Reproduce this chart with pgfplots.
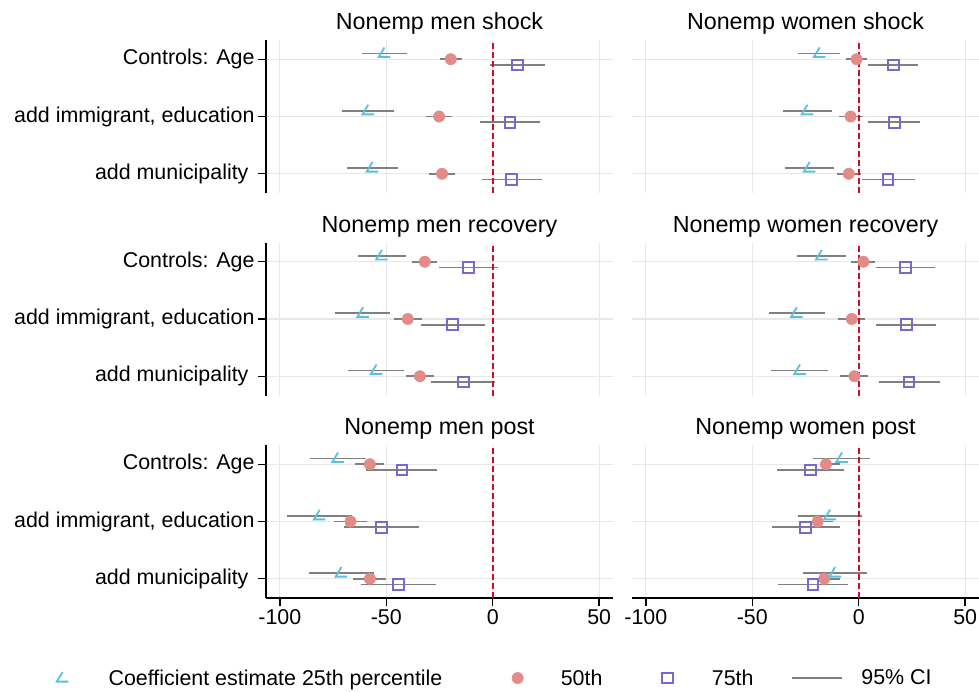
\documentclass[border=0pt]{standalone}
\usepackage{fontspec}
\setmainfont{Liberation Sans}
\usepackage{pgfplots}
\pgfplotsset{compat=1.18}
\usepackage{pgfplotstable}

\definecolor{cA}{HTML}{5BC0DE}
\definecolor{cB}{HTML}{E28B89}
\definecolor{cC}{HTML}{7A68CE}
\definecolor{ciGray}{HTML}{808080}
\definecolor{zeroRed}{HTML}{C8102E}
\definecolor{gridGray}{HTML}{E8E8E8}

\newcommand{\ticksize}{\fontsize{21.4}{25}\selectfont}
\newcommand{\titlesize}{\fontsize{23.3}{28}\selectfont}

% angle-shaped marker used for the 25th percentile
\pgfdeclareplotmark{ang}{%
  \pgfpathmoveto{\pgfqpoint{0.05\pgfplotmarksize}{1.1\pgfplotmarksize}}%
  \pgfpathlineto{\pgfqpoint{-1.0\pgfplotmarksize}{-0.65\pgfplotmarksize}}%
  \pgfpathlineto{\pgfqpoint{1.1\pgfplotmarksize}{-0.65\pgfplotmarksize}}%
  \pgfusepathqstroke}
% empty marker, so that only the error bars of the CI plots show
\pgfdeclareplotmark{nothing}{}

% r = row (1 = Controls: Age), a/b/c = 25th/50th/75th, lo/hi = 95% CI
\pgfplotstableread{
r a alo ahi b blo bhi c clo chi
1 -51.0 -61.4 -40.5 -19.7 -24.9 -14.4 11.6 -1.4 24.7
2 -58.6 -70.6 -46.6 -25.2 -31.3 -19.1 8.2 -5.8 22.2
3 -56.6 -68.5 -44.6 -23.8 -30.0 -17.5 8.9 -5.2 23.0
}\menshock
\pgfplotstableread{
r a alo ahi b blo bhi c clo chi
1 -18.5 -28.5 -8.6 -1.0 -5.8 3.8 16.2 4.4 27.9
2 -24.2 -35.7 -12.7 -3.8 -9.4 1.9 16.7 4.4 29.0
3 -23.2 -34.5 -11.8 -4.7 -10.2 0.9 13.8 1.4 26.3
}\womenshock
\pgfplotstableread{
r a alo ahi b blo bhi c clo chi
1 -52.2 -63.5 -40.8 -31.9 -37.7 -26.1 -11.4 -25.4 2.5
2 -61.0 -73.9 -48.2 -39.9 -46.5 -33.3 -18.8 -33.8 -3.8
3 -54.7 -67.8 -41.6 -34.2 -40.8 -27.5 -13.8 -28.8 1.3
}\menrec
\pgfplotstableread{
r a alo ahi b blo bhi c clo chi
1 -17.5 -29.0 -6.1 2.2 -3.4 7.7 22.0 8.3 35.6
2 -29.2 -42.3 -16.0 -3.3 -9.7 3.1 22.4 8.3 36.5
3 -27.7 -41.0 -14.4 -2.0 -8.6 4.5 23.7 9.4 38.1
}\womenrec
\pgfplotstableread{
r a alo ahi b blo bhi c clo chi
1 -72.8 -86.0 -59.5 -57.7 -64.5 -51.0 -42.7 -59.3 -26.1
2 -81.4 -96.6 -66.2 -66.8 -74.5 -59.2 -52.3 -70.0 -34.6
3 -71.2 -86.4 -55.9 -57.7 -65.6 -49.9 -44.4 -62.1 -26.8
}\menpost
\pgfplotstableread{
r a alo ahi b blo bhi c clo chi
1 -8.0 -21.3 5.3 -15.4 -17.5 -8.8 -22.7 -38.2 -7.1
2 -13.6 -28.7 1.6 -19.3 -21.0 -11.9 -25.0 -40.9 -8.9
3 -11.2 -26.3 3.8 -16.2 -18.0 -8.8 -21.5 -37.8 -5.2
}\womenpost

\pgfplotsset{
  panel/.style={
    scale only axis, width=347pt, height=153pt,
    xmin=-106.5, xmax=56.5, ymin=0.664, ymax=3.336,
    xtick={-100,-50,0,50}, ytick={1,2,3},
    xmajorgrids, ymajorgrids,
    major grid style={gridGray, line width=1.3pt},
    tick align=outside, major tick length=8pt,
    tick style={black, line width=1.4pt},
    axis line style={black, line width=1.6pt},
    ticklabel style={font=\ticksize},
    title style={font=\titlesize, at={(0.5,1)}, anchor=base, yshift=4.5pt},
    clip=false, anchor=north west,
  },
  leftcol/.style={axis y line*=left,
    yticklabels={{add municipality\kern6pt}, {add immigrant, education}, {Controls: Age}}},
  rightcol/.style={axis y line*=left, y axis line style={draw=none},
    ymajorticks=false},
  toprow/.style={axis x line*=bottom, x axis line style={draw=none},
    xmajorticks=false},
  botrow/.style={axis x line*=bottom, xticklabels={-100,-50,0,50}},
  cibar/.style={forget plot, only marks, mark=nothing,
    error bars/.cd, x dir=both, x explicit, error mark=none,
    error bar style={ciGray, line width=1.9pt}},
}

\newcommand{\drawpanel}[1]{%
  \addplot[cibar] table[x=a, y expr=4-\thisrow{r}+0.1,
    x error minus expr=\thisrow{a}-\thisrow{alo},
    x error plus expr=\thisrow{ahi}-\thisrow{a}] {#1};
  \addplot[cibar] table[x=b, y expr=4-\thisrow{r},
    x error minus expr=\thisrow{b}-\thisrow{blo},
    x error plus expr=\thisrow{bhi}-\thisrow{b}] {#1};
  \addplot[cibar] table[x=c, y expr=4-\thisrow{r}-0.1,
    x error minus expr=\thisrow{c}-\thisrow{clo},
    x error plus expr=\thisrow{chi}-\thisrow{c}] {#1};
  \addplot[forget plot, only marks, mark=*, mark size=5.7pt, color=cB,
    mark options={draw=none, fill=cB}] table[x=b, y expr=4-\thisrow{r}] {#1};
  \addplot[forget plot, only marks, mark=square, mark size=5.3pt, color=cC,
    line width=2pt] table[x=c, y expr=4-\thisrow{r}-0.1] {#1};
  \addplot[forget plot, only marks, mark=ang, mark size=5.5pt, color=cA,
    line width=1.8pt] table[x=a, y expr=4-\thisrow{r}+0.1] {#1};
  \addplot[forget plot, zeroRed, line width=2.4pt, dash pattern=on 6pt off 3pt]
    coordinates {(0,0.664) (0,3.336)};
}

\begin{document}
\begin{tikzpicture}
\useasboundingbox (0pt,0pt) rectangle (979pt,-691pt);

\begin{axis}[panel, leftcol, toprow, at={(266pt,-40pt)}, title={Nonemp men shock}]
\drawpanel{\menshock}
\end{axis}
\begin{axis}[panel, rightcol, toprow, at={(632pt,-40pt)}, title={Nonemp women shock}]
\drawpanel{\womenshock}
\end{axis}

\begin{axis}[panel, leftcol, toprow, at={(266pt,-242.5pt)}, title={Nonemp men recovery}]
\drawpanel{\menrec}
\end{axis}
\begin{axis}[panel, rightcol, toprow, at={(632pt,-242.5pt)}, title={Nonemp women recovery}]
\drawpanel{\womenrec}
\end{axis}

\begin{axis}[panel, leftcol, botrow, at={(266pt,-445pt)}, title={Nonemp men post},
  legend style={at={(-0.660,-0.523)}, anchor=west, draw=none, fill=none,
    font=\ticksize, legend columns=4, inner sep=0pt, column sep=0pt,
    nodes={inner sep=0pt},
    /tikz/every odd column/.append style={column sep=21pt},
    /tikz/every even column/.append style={column sep=44pt}},
  legend cell align=left]
\drawpanel{\menpost}
\addlegendimage{legend image code/.code={\path (0pt,0pt) (50pt,0pt);
  \draw[cA, line width=1.8pt] plot[only marks, mark=ang, mark size=5.5pt] coordinates {(25pt,0pt)};}}
\addlegendentry{Coefficient estimate 25th percentile\kern6pt}
\addlegendimage{legend image code/.code={\path (0pt,0pt) (50pt,0pt);
  \fill[cB] plot[only marks, mark=*, mark size=5.7pt] coordinates {(25pt,0pt)};}}
\addlegendentry{\kern-3pt 50th\kern-4pt}
\addlegendimage{legend image code/.code={\path (0pt,0pt) (50pt,0pt);
  \draw[cC, line width=2pt] plot[only marks, mark=square, mark size=5.3pt] coordinates {(25pt,0pt)};}}
\addlegendentry{\kern-2pt 75th\kern-7pt}
\addlegendimage{legend image code/.code={\draw[ciGray, line width=1.9pt] (0pt,0pt) -- (50pt,0pt);}}
\addlegendentry{\kern-2pt 95\% CI}
\end{axis}
\begin{axis}[panel, rightcol, botrow, at={(632pt,-445pt)}, title={Nonemp women post}]
\drawpanel{\womenpost}
\end{axis}
\end{tikzpicture}
\end{document}
